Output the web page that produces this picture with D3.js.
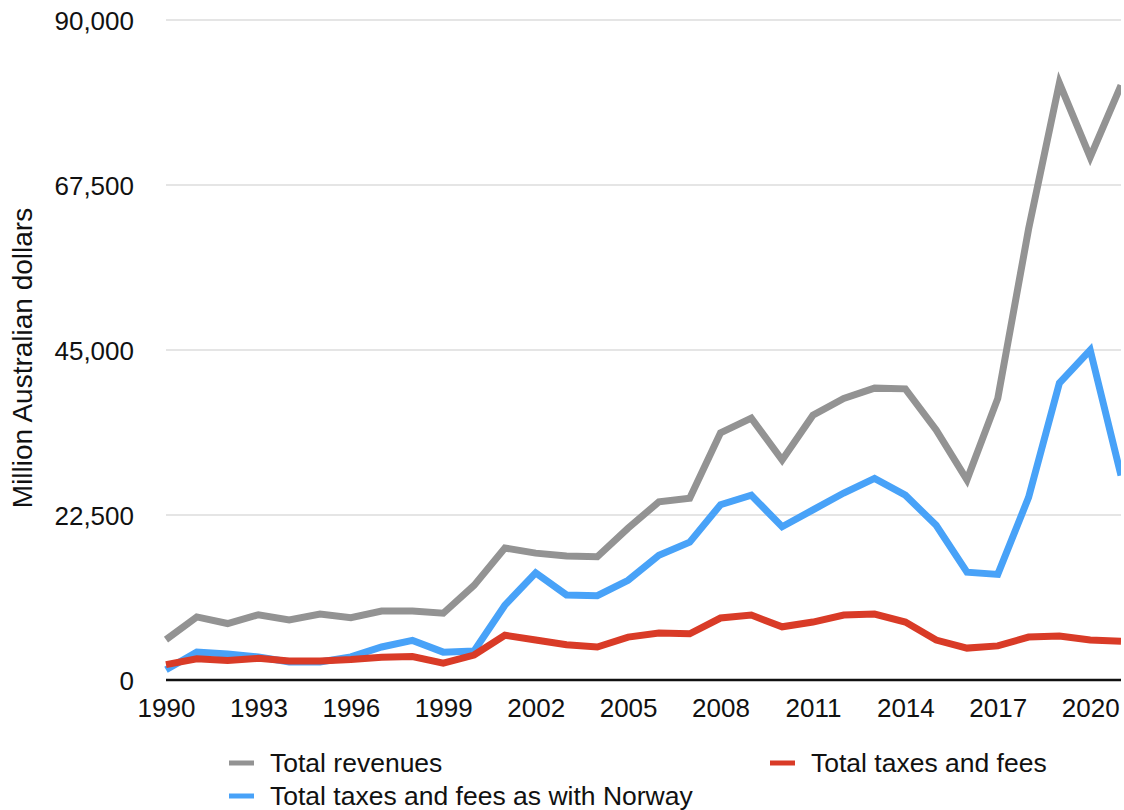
<!DOCTYPE html>
<html>
<head>
<meta charset="utf-8">
<script src="https://cdn.jsdelivr.net/npm/d3@7"></script>
<style>
  body { margin: 0; background: #fff; }
  svg text { font-family: "Liberation Sans", Arial, Helvetica, sans-serif; fill: #111; }
</style>
</head>
<body>
<div id="container"></div>
<script>
const years = d3.range(1990, 2022);

const totalRevenues = [
    5500, 8600, 7700, 8900, 8200, 9000, 8500, 9400, 9400, 9100,
    12900, 18000, 17300, 16900, 16800, 20700, 24300, 24800, 33700, 35700,
    30000, 36100, 38400, 39800, 39700, 34100, 27300, 38400, 61500, 81400,
    71300, 81100
];
const taxesNorway = [
    1400, 3800, 3550, 3150, 2450, 2450, 3150, 4500, 5400, 3800,
    3950, 10200, 14600, 11600, 11500, 13600, 17000, 18800, 23900, 25200,
    20900, 23200, 25500, 27500, 25200, 21100, 14700, 14400, 24900, 40500,
    45000, 27900
];
const totalTaxes = [
    2100, 2900, 2650, 2950, 2600, 2600, 2800, 3100, 3200, 2300,
    3400, 6100, 5450, 4800, 4500, 5850, 6400, 6300, 8450, 8850,
    7250, 7900, 8850, 9000, 7900, 5450, 4350, 4650, 5850, 6000,
    5450, 5300
];

const yTicks = [0, 22500, 45000, 67500, 90000];
const xTicks = d3.range(1990, 2022, 3);

const seriesList = [
    { name: "Total revenues", values: totalRevenues, color: "#939393" },
    { name: "Total taxes and fees as with Norway", values: taxesNorway, color: "#48a2f8" },
    { name: "Total taxes and fees", values: totalTaxes, color: "#d93b27" }
];

const width = 1124, height = 810;
const plotLeft = 166, plotRight = 1121, plotTop = 20, plotBottom = 680;

const svg = d3.select("#container").append("svg")
    .attr("width", width)
    .attr("height", height);

const x = d3.scaleLinear([1990, 2021], [plotLeft, plotRight]);
const y = d3.scaleLinear([0, 90000], [plotBottom, plotTop]);

// gridlines
svg.append("g")
    .selectAll("line")
    .data(yTicks.filter(d => d > 0))
    .join("line")
        .attr("x1", plotLeft)
        .attr("x2", plotRight)
        .attr("y1", d => y(d))
        .attr("y2", d => y(d))
        .attr("stroke", "#cccccc")
        .attr("stroke-width", 1.2);

// y axis labels
const yAxis = d3.axisLeft(y)
    .tickValues(yTicks)
    .tickSize(0)
    .tickPadding(32)
    .tickFormat(d3.format(","));

svg.append("g")
    .attr("transform", `translate(${plotLeft},0)`)
    .call(yAxis)
    .call(g => g.select(".domain").remove())
    .selectAll("text")
        .style("font-size", "26px")
        .attr("dy", "0.35em");

// x axis labels
const xAxis = d3.axisBottom(x)
    .tickValues(xTicks)
    .tickSize(0)
    .tickPadding(19)
    .tickFormat(d3.format("d"));

svg.append("g")
    .attr("transform", `translate(0,${plotBottom})`)
    .call(xAxis)
    .call(g => g.select(".domain").remove())
    .selectAll("text")
        .style("font-size", "26px");

// baseline
svg.append("line")
    .attr("x1", plotLeft)
    .attr("x2", plotRight)
    .attr("y1", y(0))
    .attr("y2", y(0))
    .attr("stroke", "#111")
    .attr("stroke-width", 2.5);

svg.append("defs").append("clipPath")
    .attr("id", "plotClip")
    .append("rect")
        .attr("x", plotLeft - 10)
        .attr("y", 0)
        .attr("width", plotRight - plotLeft + 10)
        .attr("height", height);

const line = d3.line()
    .x((d, i) => x(years[i]))
    .y(d => y(d));

svg.append("g")
    .attr("clip-path", "url(#plotClip)")
    .selectAll("path")
    .data(seriesList)
    .join("path")
        .attr("d", d => line(d.values))
        .attr("fill", "none")
        .attr("stroke", d => d.color)
        .attr("stroke-width", 7)
        .attr("stroke-linejoin", "miter");

// y axis title
svg.append("text")
    .attr("transform", `translate(32,${358}) rotate(-90)`)
    .attr("text-anchor", "middle")
    .style("font-size", "28px")
    .text("Million Australian dollars");

// legend
const legendPos = [
    { x: 229, y: 763 },
    { x: 229, y: 796 },
    { x: 770, y: 763 }
];

const legend = svg.append("g")
    .selectAll("g")
    .data(seriesList)
    .join("g")
        .attr("transform", (d, i) => `translate(${legendPos[i].x},${legendPos[i].y})`);

legend.append("line")
    .attr("x1", 0)
    .attr("x2", 25)
    .attr("stroke", d => d.color)
    .attr("stroke-width", 5);

legend.append("text")
    .attr("x", 41)
    .attr("dy", "0.35em")
    .style("font-size", "26.5px")
    .text(d => d.name);
</script>
</body>
</html>
